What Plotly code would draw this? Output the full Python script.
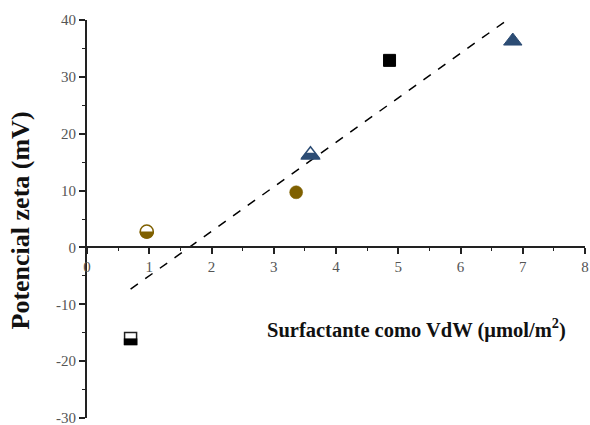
import numpy as np
import plotly.graph_objects as go

# Data
sq_half_x = [0.70]; sq_half_y = [-16.0]
circ_half_x = [0.96]; circ_half_y = [2.8]
circ_x = [3.36]; circ_y = [9.7]
tri_half_x = [3.59]; tri_half_y = [16.3]
sq_x = [4.86]; sq_y = [32.9]
tri_x = [6.84]; tri_y = [36.3]
x_ticks = [0, 1, 2, 3, 4, 5, 6, 7, 8]
y_ticks = [-30, -20, -10, 0, 10, 20, 30, 40]
y_tick_labels = ["-30", "-20", "-10", "0", "10", "20", "30", "40"]

all_x = np.array(sq_half_x + circ_half_x + circ_x + tri_half_x + sq_x + tri_x)
all_y = np.array(sq_half_y + circ_half_y + circ_y + tri_half_y + sq_y + tri_y)
slope, intercept = np.polyfit(all_x, all_y, 1)
fit_x = np.array([all_x.min(), all_x.max()])
fit_y = slope * fit_x + intercept

BROWN = "#7f6000"
BLUE = "#2c4c74"
BLACK = "#000000"

fig = go.Figure()
fig.add_trace(go.Scatter(x=fit_x, y=fit_y, mode="lines",
                         line=dict(color="black", width=1.5, dash="dash"),
                         showlegend=False, hoverinfo="skip"))

SZ_SQ, SZ_C, SZ_T = 12, 13, 16
# outline markers
fig.add_trace(go.Scatter(x=sq_half_x, y=sq_half_y, mode="markers",
                         marker=dict(symbol="square", size=SZ_SQ, color="white",
                                     line=dict(color="#222", width=1.5)), showlegend=False))
fig.add_trace(go.Scatter(x=circ_half_x, y=circ_half_y, mode="markers",
                         marker=dict(symbol="circle", size=SZ_C, color="white",
                                     line=dict(color=BROWN, width=1.5)), showlegend=False))
fig.add_trace(go.Scatter(x=tri_half_x, y=tri_half_y, mode="markers",
                         marker=dict(symbol="triangle-up", size=SZ_T, color="white",
                                     line=dict(color=BLUE, width=1.5)), showlegend=False))
# filled markers
fig.add_trace(go.Scatter(x=circ_x, y=circ_y, mode="markers",
                         marker=dict(symbol="circle", size=SZ_C, color=BROWN,
                                     line=dict(color=BROWN, width=0.5)), showlegend=False))
fig.add_trace(go.Scatter(x=sq_x, y=sq_y, mode="markers",
                         marker=dict(symbol="square", size=SZ_SQ, color=BLACK,
                                     line=dict(color=BLACK, width=1)), showlegend=False))
fig.add_trace(go.Scatter(x=tri_x, y=tri_y, mode="markers",
                         marker=dict(symbol="triangle-up", size=SZ_T, color=BLUE,
                                     line=dict(color=BLUE, width=1)), showlegend=False))

shapes = []
def pix_path(xa, ya, pts, color):
    d = "M " + " L ".join(f"{px:.2f},{py:.2f}" for px, py in pts) + " Z"
    return dict(type="path", xref="x", yref="y", xsizemode="pixel", ysizemode="pixel",
                xanchor=xa, yanchor=ya, path=d, fillcolor=color,
                line=dict(width=0), layer="above")

# half square (bottom half filled)
r = SZ_SQ / 2 + 0.75
shapes.append(pix_path(sq_half_x[0], sq_half_y[0],
                       [(-r, -r), (r, -r), (r, 0), (-r, 0)], BLACK))
# half circle (bottom half)
r = SZ_C / 2 + 0.75
th = np.linspace(np.pi, 2 * np.pi, 40)
shapes.append(pix_path(circ_half_x[0], circ_half_y[0],
                       [(r * np.cos(t), r * np.sin(t)) for t in th], BROWN))
# half triangle (bottom half)
r = SZ_T / 2
rt = r * 2 / np.sqrt(3)
shapes.append(pix_path(tri_half_x[0], tri_half_y[0],
                       [(-rt - 1, -r / 2 - 0.75), (rt + 1, -r / 2 - 0.75), (rt / 2, r / 4), (-rt / 2, r / 4)], BLUE))

SERIF = "Liberation Serif"
fig.update_layout(
    width=590, height=425,
    margin=dict(l=87, r=5, t=20, b=7),
    paper_bgcolor="white", plot_bgcolor="white",
    shapes=shapes,
    xaxis=dict(range=[0, 8], tickvals=x_ticks, automargin=False, ticklabeloverflow="allow",
               anchor="free", position=30 / 70,
               showgrid=False, zeroline=False, showline=True,
               linecolor="#222", linewidth=1.5,
               ticks="outside", ticklen=6, tickcolor="#222", tickwidth=1.5,
               minor=dict(ticks="outside", ticklen=3, dtick=0.5, tickcolor="#222", tickwidth=1.2),
               tickfont=dict(family=SERIF, size=15, color="#555")),
    yaxis=dict(range=[-30, 40], tickvals=y_ticks, ticktext=y_tick_labels, automargin=False,
               ticklabeloverflow="allow",
               showgrid=False, zeroline=False, showline=True,
               linecolor="#222", linewidth=1.8,
               ticks="outside", ticklen=6, tickcolor="#222", tickwidth=1.5,
               minor=dict(ticks="outside", ticklen=3, dtick=5, tickcolor="#222", tickwidth=1.2),
               tickfont=dict(family=SERIF, size=15, color="#555")),
    annotations=[
        dict(text="<b>Potencial zeta (mV)</b>", xref="paper", yref="paper",
             x=-0.134, y=0.497, textangle=-90, showarrow=False,
             font=dict(family=SERIF, size=26, color="#111"), xanchor="center", yanchor="middle"),
        dict(text="<b>Surfactante como VdW (μmol/m<sup>2</sup>)</b>", xref="paper", yref="paper",
             x=(416 - 87) / 498, y=(418 - 328) / 398, showarrow=False,
             font=dict(family=SERIF, size=20.5, color="#111"), xanchor="center", yanchor="middle"),
    ],
)

fig.write_html("out.html", config={"displayModeBar": False},
               post_script="document.body.style.margin='0';document.body.style.overflow='hidden';")
